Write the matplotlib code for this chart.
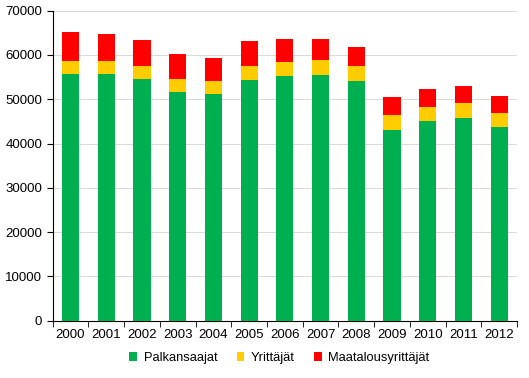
import matplotlib.pyplot as plt
import numpy as np

plt.rcParams['font.family'] = ['Liberation Sans', 'DejaVu Sans']

years = ['2000', '2001', '2002', '2003', '2004', '2005', '2006',
         '2007', '2008', '2009', '2010', '2011', '2012']
palkansaajat = [55700, 55700, 54600, 51700, 51200, 54400, 55200,
                55500, 54100, 43000, 45100, 45800, 43700]
yrittajat = [2900, 2900, 2900, 2900, 2900, 3100, 3200,
             3400, 3400, 3400, 3200, 3400, 3200]
maatalous = [6600, 6100, 5900, 5600, 5200, 5700, 5200,
             4700, 4300, 4100, 4000, 3800, 3800]

colors = ['#00B050', '#FFCC00', '#FF0000']

fig = plt.figure(figsize=(5.29, 3.78), dpi=100)
ax = fig.add_axes([52.7 / 529, 1 - 320.7 / 378, (517 - 52.7) / 529, 310 / 378])

x = np.arange(len(years))
p = np.array(palkansaajat)
y = np.array(yrittajat)
m = np.array(maatalous)
w = 0.48
ax.bar(x, p, w, color=colors[0], label='Palkansaajat', zorder=3)
ax.bar(x, y, w, bottom=p, color=colors[1], label='Yrittäjät', zorder=3)
ax.bar(x, m, w, bottom=p + y, color=colors[2], label='Maatalousyrittäjät', zorder=3)

ax.set_xlim(-0.5, len(years) - 0.5)
ax.set_ylim(0, 70000)
ax.set_yticks(range(0, 70001, 10000))
ax.yaxis.grid(True, color='#d9d9d9', linewidth=0.7, zorder=0)

ax.set_xticks(x)
ax.set_xticklabels(years)
ax.set_xticks(np.arange(-0.5, len(years)), minor=True)
ax.tick_params(axis='x', which='major', length=0, labelsize=9.5, pad=6)
ax.tick_params(axis='x', which='minor', length=4, direction='out', color='black')
ax.tick_params(axis='y', length=4, labelsize=9.5, color='black')

for s in ['top', 'right']:
    ax.spines[s].set_visible(False)
ax.spines['left'].set_color('black')
ax.spines['bottom'].set_color('black')

fig.legend(loc='center', bbox_to_anchor=(0.528, 1 - 358 / 378), ncol=3,
           frameon=False, fontsize=9.3, handlelength=0.6, handleheight=0.6,
           handletextpad=0.5, columnspacing=1.5)

fig.savefig('out.png', dpi=100)
